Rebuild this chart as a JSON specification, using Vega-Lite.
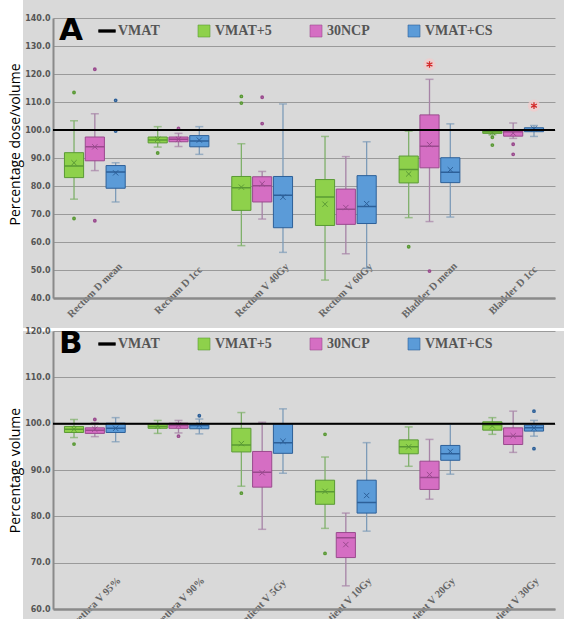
{
  "$schema": "https://vega.github.io/schema/vega-lite/v6.json",
  "autosize": {"type": "pad"},
  "padding": {"left": -22, "top": -16, "right": 0, "bottom": 0},
  "background": "white",
  "bounds": "flush",
  "spacing": 33,
  "resolve": {
    "scale": {"fill": "independent", "stroke": "independent", "color": "independent", "x": "independent", "y": "independent", "xOffset": "independent"},
    "legend": {"fill": "independent"}
  },
  "config": {
    "axisY": {"ticks": false, "domainColor": "#8a8a8a", "domainWidth": 2, "grid": true, "gridColor": "#9a9a9a", "gridWidth": 1, "labelFont": "DejaVu Sans", "labelFontSize": 8, "labelFontWeight": "bold", "labelColor": "#555555", "labelPadding": 3, "labelOverlap": false, "titleFont": "Open Sans", "titleFontSize": 14, "titleFontWeight": "normal", "titleColor": "#000000", "titlePadding": 2, "format": ".1f"},
    "axisX": {"ticks": false, "grid": false, "domainColor": "#8a8a8a", "domainWidth": 2.5, "labelAngle": -45, "labelAlign": "center", "labelBaseline": "middle", "labelFont": "Liberation Serif", "labelFontWeight": "bold", "labelFontSize": 10.5, "labelColor": "#666666", "labelOverlap": false, "labelBound": false, "labelFlush": false, "labelLimit": 0},
    "legend": {"orient": "top-left", "offset": 6, "direction": "horizontal", "columns": 4, "gridAlign": "none", "columnPadding": 36, "padding": 0,
      "titleOrient": "left", "titleFont": "DejaVu Sans", "titleFontSize": 31, "titleFontWeight": "bold", "titleColor": "#000000", "titlePadding": 17, "titleBaseline": "middle",
      "labelFont": "Liberation Serif", "labelFontSize": 14, "labelFontWeight": "bold", "labelColor": "#555555", "labelOffset": 4, "labelLimit": 200,
      "symbolType": "square", "symbolSize": 144, "symbolStrokeColor": "#666666", "symbolStrokeWidth": 0.6, "symbolOpacity": 1}
  },
  "datasets": {
    "boxesA": [
      {"cat": "Rectum D mean", "group": "VMAT+5", "lo": 75.3, "q1": 83.0, "med": 87.1, "q3": 91.9, "hi": 103.3, "mean": 88.3},
      {"cat": "Rectum D mean", "group": "30NCP", "lo": 85.5, "q1": 89.0, "med": 94.0, "q3": 97.5, "hi": 105.8, "mean": 94.0},
      {"cat": "Rectum D mean", "group": "VMAT+CS", "lo": 74.3, "q1": 79.2, "med": 85.0, "q3": 87.3, "hi": 88.3, "mean": 84.7},
      {"cat": "Rectum D 1cc", "group": "VMAT+5", "lo": 93.9, "q1": 95.4, "med": 96.4, "q3": 97.5, "hi": 101.2, "mean": 96.7},
      {"cat": "Rectum D 1cc", "group": "30NCP", "lo": 94.1, "q1": 95.8, "med": 96.7, "q3": 97.5, "hi": 98.8, "mean": 96.7},
      {"cat": "Rectum D 1cc", "group": "VMAT+CS", "lo": 91.3, "q1": 94.0, "med": 96.1, "q3": 98.0, "hi": 101.2, "mean": 96.4},
      {"cat": "Rectum V 40Gy", "group": "VMAT+5", "lo": 58.7, "q1": 71.3, "med": 79.4, "q3": 83.4, "hi": 95.1, "mean": 79.6},
      {"cat": "Rectum V 40Gy", "group": "30NCP", "lo": 68.2, "q1": 74.3, "med": 80.1, "q3": 83.3, "hi": 85.2, "mean": 80.8},
      {"cat": "Rectum V 40Gy", "group": "VMAT+CS", "lo": 56.3, "q1": 65.1, "med": 76.7, "q3": 83.4, "hi": 109.3, "mean": 76.0},
      {"cat": "Rectum V 60Gy", "group": "VMAT+5", "lo": 46.4, "q1": 65.9, "med": 76.1, "q3": 82.3, "hi": 97.7, "mean": 73.5},
      {"cat": "Rectum V 60Gy", "group": "30NCP", "lo": 55.8, "q1": 66.3, "med": 71.7, "q3": 78.9, "hi": 90.5, "mean": 72.3},
      {"cat": "Rectum V 60Gy", "group": "VMAT+CS", "lo": 50.6, "q1": 66.6, "med": 72.7, "q3": 83.7, "hi": 95.8, "mean": 73.7},
      {"cat": "Bladder D mean", "group": "VMAT+5", "lo": 68.7, "q1": 81.1, "med": 85.9, "q3": 90.7, "hi": 99.6, "mean": 84.3},
      {"cat": "Bladder D mean", "group": "30NCP", "lo": 67.3, "q1": 86.5, "med": 94.2, "q3": 105.4, "hi": 118.1, "mean": 94.8},
      {"cat": "Bladder D mean", "group": "VMAT+CS", "lo": 68.9, "q1": 81.2, "med": 84.9, "q3": 90.1, "hi": 102.2, "mean": 85.8},
      {"cat": "Bladder D 1cc", "group": "VMAT+5", "lo": 98.3, "q1": 98.8, "med": 99.4, "q3": 99.9, "hi": 100.0, "mean": 99.2},
      {"cat": "Bladder D 1cc", "group": "30NCP", "lo": 97.0, "q1": 97.8, "med": 99.4, "q3": 99.9, "hi": 102.5, "mean": 98.9},
      {"cat": "Bladder D 1cc", "group": "VMAT+CS", "lo": 97.7, "q1": 99.4, "med": 100.1, "q3": 100.8, "hi": 101.6, "mean": 100.4}
    ],
    "outA": [
      {"cat": "Rectum D mean", "group": "VMAT+5", "value": 113.4, "kind": "dot"},
      {"cat": "Rectum D mean", "group": "VMAT+5", "value": 68.4, "kind": "dot"},
      {"cat": "Rectum D mean", "group": "30NCP", "value": 121.7, "kind": "dot"},
      {"cat": "Rectum D mean", "group": "30NCP", "value": 67.6, "kind": "dot"},
      {"cat": "Rectum D mean", "group": "VMAT+CS", "value": 110.6, "kind": "dot"},
      {"cat": "Rectum D mean", "group": "VMAT+CS", "value": 99.6, "kind": "dot"},
      {"cat": "Rectum D 1cc", "group": "VMAT+5", "value": 91.8, "kind": "dot"},
      {"cat": "Rectum D 1cc", "group": "30NCP", "value": 100.6, "kind": "dot"},
      {"cat": "Rectum V 40Gy", "group": "VMAT+5", "value": 112.0, "kind": "dot"},
      {"cat": "Rectum V 40Gy", "group": "VMAT+5", "value": 109.6, "kind": "dot"},
      {"cat": "Rectum V 40Gy", "group": "30NCP", "value": 111.7, "kind": "dot"},
      {"cat": "Rectum V 40Gy", "group": "30NCP", "value": 102.3, "kind": "dot"},
      {"cat": "Bladder D mean", "group": "VMAT+5", "value": 58.3, "kind": "dot"},
      {"cat": "Bladder D mean", "group": "30NCP", "value": 123.4, "kind": "star"},
      {"cat": "Bladder D mean", "group": "30NCP", "value": 49.6, "kind": "dot"},
      {"cat": "Bladder D 1cc", "group": "VMAT+5", "value": 97.4, "kind": "dot"},
      {"cat": "Bladder D 1cc", "group": "VMAT+5", "value": 94.6, "kind": "dot"},
      {"cat": "Bladder D 1cc", "group": "30NCP", "value": 94.9, "kind": "dot"},
      {"cat": "Bladder D 1cc", "group": "30NCP", "value": 91.3, "kind": "dot"},
      {"cat": "Bladder D 1cc", "group": "VMAT+CS", "value": 108.7, "kind": "star"}
    ],
    "boxesB": [
      {"cat": "Urethra V 95%", "group": "VMAT+5", "lo": 97.0, "q1": 98.1, "med": 98.8, "q3": 99.4, "hi": 100.9, "mean": 98.8},
      {"cat": "Urethra V 95%", "group": "30NCP", "lo": 97.2, "q1": 97.9, "med": 98.6, "q3": 99.1, "hi": 100.2, "mean": 98.8},
      {"cat": "Urethra V 95%", "group": "VMAT+CS", "lo": 96.1, "q1": 98.1, "med": 99.0, "q3": 100.1, "hi": 101.3, "mean": 99.0},
      {"cat": "Urethra V 90%", "group": "VMAT+5", "lo": 97.9, "q1": 99.0, "med": 99.4, "q3": 99.9, "hi": 100.7, "mean": 99.5},
      {"cat": "Urethra V 90%", "group": "30NCP", "lo": 98.0, "q1": 99.0, "med": 99.6, "q3": 100.1, "hi": 100.7, "mean": 99.7},
      {"cat": "Urethra V 90%", "group": "VMAT+CS", "lo": 97.8, "q1": 98.9, "med": 99.6, "q3": 99.9, "hi": 101.0, "mean": 99.7},
      {"cat": "Patient V 5Gy", "group": "VMAT+5", "lo": 86.5, "q1": 93.9, "med": 95.4, "q3": 99.0, "hi": 102.4, "mean": 95.7},
      {"cat": "Patient V 5Gy", "group": "30NCP", "lo": 77.2, "q1": 86.3, "med": 89.5, "q3": 94.0, "hi": 100.3, "mean": 89.4},
      {"cat": "Patient V 5Gy", "group": "VMAT+CS", "lo": 89.3, "q1": 93.6, "med": 95.9, "q3": 99.9, "hi": 103.2, "mean": 96.2},
      {"cat": "Patient V 10Gy", "group": "VMAT+5", "lo": 77.4, "q1": 82.6, "med": 85.3, "q3": 87.8, "hi": 92.8, "mean": 85.4},
      {"cat": "Patient V 10Gy", "group": "30NCP", "lo": 65.0, "q1": 71.1, "med": 75.4, "q3": 76.5, "hi": 80.7, "mean": 73.9},
      {"cat": "Patient V 10Gy", "group": "VMAT+CS", "lo": 76.8, "q1": 80.7, "med": 83.0, "q3": 87.8, "hi": 95.9, "mean": 84.5},
      {"cat": "Patient V 20Gy", "group": "VMAT+5", "lo": 90.8, "q1": 93.5, "med": 95.0, "q3": 96.5, "hi": 99.3, "mean": 95.0},
      {"cat": "Patient V 20Gy", "group": "30NCP", "lo": 83.7, "q1": 85.8, "med": 88.4, "q3": 91.9, "hi": 96.6, "mean": 89.0},
      {"cat": "Patient V 20Gy", "group": "VMAT+CS", "lo": 89.1, "q1": 92.1, "med": 93.5, "q3": 95.3, "hi": 99.9, "mean": 94.0},
      {"cat": "Patient V 30Gy", "group": "VMAT+5", "lo": 97.7, "q1": 98.6, "med": 99.7, "q3": 100.4, "hi": 101.3, "mean": 99.5},
      {"cat": "Patient V 30Gy", "group": "30NCP", "lo": 93.8, "q1": 95.5, "med": 97.3, "q3": 99.1, "hi": 102.7, "mean": 97.4},
      {"cat": "Patient V 30Gy", "group": "VMAT+CS", "lo": 97.3, "q1": 98.4, "med": 99.1, "q3": 99.7, "hi": 100.7, "mean": 99.1}
    ],
    "outB": [
      {"cat": "Urethra V 95%", "group": "VMAT+5", "value": 95.6, "kind": "dot"},
      {"cat": "Urethra V 95%", "group": "30NCP", "value": 100.9, "kind": "dot"},
      {"cat": "Urethra V 90%", "group": "30NCP", "value": 97.3, "kind": "dot"},
      {"cat": "Urethra V 90%", "group": "VMAT+CS", "value": 101.7, "kind": "dot"},
      {"cat": "Patient V 5Gy", "group": "VMAT+5", "value": 85.0, "kind": "dot"},
      {"cat": "Patient V 10Gy", "group": "VMAT+5", "value": 97.7, "kind": "dot"},
      {"cat": "Patient V 10Gy", "group": "VMAT+5", "value": 72.0, "kind": "dot"},
      {"cat": "Patient V 30Gy", "group": "VMAT+CS", "value": 102.7, "kind": "dot"},
      {"cat": "Patient V 30Gy", "group": "VMAT+CS", "value": 94.6, "kind": "dot"}
    ],
    "refline": [
      {"value": 100, "group": "VMAT"}
    ]
  },
  "vconcat": [
    {
      "width": 502,
      "height": 280,
      "view": {"fill": "#d9d9d9", "stroke": "#d9d9d9", "strokeWidth": 60},
      "layer": [
        {
          "encoding": {
            "x": {"field": "cat", "type": "nominal",
              "scale": {"domain": ["Rectum D mean", "Rectum D 1cc", "Rectum V 40Gy", "Rectum V 60Gy", "Bladder D mean", "Bladder D 1cc"], "paddingInner": 0, "paddingOuter": 0},
              "axis": {"title": null, "labelPadding": -8}},
            "xOffset": {"field": "group", "type": "nominal", "scale": {"domain": ["VMAT+5", "30NCP", "VMAT+CS"], "paddingInner": 0.08, "paddingOuter": 0.55}}
          },
          "layer": [
            {
              "data": {"name": "boxesA"},
              "mark": {"type": "rule", "strokeWidth": 1.3},
              "encoding": {
                "y": {"field": "lo", "type": "quantitative", "title": "Percentage dose/volume", "axis": {"values": [40, 50, 60, 70, 80, 90, 100, 110, 120, 130, 140], "titleY": 126}},
                "y2": {"field": "hi"},
                "color": {"field": "group", "type": "nominal", "legend": null, "scale": {"domain": ["VMAT+5", "30NCP", "VMAT+CS"], "range": ["#7fb06a", "#a683a6", "#7d9bb8"]}}
              }
            },
            {
              "data": {"name": "boxesA"},
              "mark": {"type": "bar", "strokeWidth": 1},
              "encoding": {
                "y": {"field": "q1", "type": "quantitative", "title": "Percentage dose/volume", "scale": {"domain": [40, 140], "nice": false, "zero": false},
                  "axis": {"values": [40, 50, 60, 70, 80, 90, 100, 110, 120, 130, 140], "titleY": 126}},
                "y2": {"field": "q3"},
                "fill": {"field": "group", "type": "nominal",
                  "scale": {"domain": ["VMAT", "VMAT+5", "30NCP", "VMAT+CS"], "range": ["#000000", "#8ed14b", "#d56ec3", "#5b9bd8"]},
                  "legend": {"title": "A",
                    "encode": {"symbols": {"update": {"shape": {"signal": "datum.value === 'VMAT' ? 'M-1.4,-0.22H1.4V0.22H-1.4Z' : 'square'"}, "stroke": {"signal": "datum.value === 'VMAT' ? '#000000' : '#666666'"}}}}}},
                "stroke": {"field": "group", "type": "nominal", "legend": null, "scale": {"domain": ["VMAT", "VMAT+5", "30NCP", "VMAT+CS"], "range": ["#000000", "#5a9a35", "#9a4a8e", "#2d6099"]}}
              }
            },
            {
              "data": {"name": "boxesA"},
              "mark": {"type": "bar", "fillOpacity": 0, "strokeWidth": 1.5},
              "encoding": {
                "y": {"field": "med", "type": "quantitative", "title": "Percentage dose/volume", "axis": {"values": [40, 50, 60, 70, 80, 90, 100, 110, 120, 130, 140], "titleY": 126}},
                "y2": {"field": "med"},
                "stroke": {"field": "group", "type": "nominal", "legend": null}
              }
            },
            {
              "data": {"name": "boxesA"},
              "mark": {"type": "tick", "size": 8, "thickness": 1.5},
              "encoding": {
                "y": {"field": "lo", "type": "quantitative", "title": "Percentage dose/volume", "axis": {"values": [40, 50, 60, 70, 80, 90, 100, 110, 120, 130, 140], "titleY": 126}},
                "color": {"field": "group", "type": "nominal", "legend": null}
              }
            },
            {
              "data": {"name": "boxesA"},
              "mark": {"type": "tick", "size": 8, "thickness": 1.5},
              "encoding": {
                "y": {"field": "hi", "type": "quantitative", "title": "Percentage dose/volume", "axis": {"values": [40, 50, 60, 70, 80, 90, 100, 110, 120, 130, 140], "titleY": 126}},
                "color": {"field": "group", "type": "nominal", "legend": null}
              }
            },
            {
              "data": {"name": "boxesA"},
              "mark": {"type": "point", "shape": "M-1,-1L1,1M-1,1L1,-1", "filled": false, "size": 28, "strokeWidth": 1, "opacity": 1},
              "encoding": {
                "y": {"field": "mean", "type": "quantitative", "title": "Percentage dose/volume", "axis": {"values": [40, 50, 60, 70, 80, 90, 100, 110, 120, 130, 140], "titleY": 126}},
                "stroke": {"field": "group", "type": "nominal", "legend": null}
              }
            },
            {
              "data": {"name": "outA"},
              "transform": [{"filter": "datum.kind === 'dot'"}],
              "mark": {"type": "point", "filled": false, "size": 5, "strokeWidth": 1.6, "opacity": 1},
              "encoding": {
                "y": {"field": "value", "type": "quantitative", "title": "Percentage dose/volume", "axis": {"values": [40, 50, 60, 70, 80, 90, 100, 110, 120, 130, 140], "titleY": 126}},
                "stroke": {"field": "group", "type": "nominal", "legend": null}
              }
            },
            {
              "data": {"name": "outA"},
              "transform": [{"filter": "datum.kind === 'star'"}],
              "mark": {"type": "point", "filled": true, "shape": "circle", "size": 150, "color": "#f0cccc", "opacity": 0.8},
              "encoding": {
                "y": {"field": "value", "type": "quantitative", "title": "Percentage dose/volume", "axis": {"values": [40, 50, 60, 70, 80, 90, 100, 110, 120, 130, 140], "titleY": 126}}
              }
            },
            {
              "data": {"name": "outA"},
              "transform": [{"filter": "datum.kind === 'star'"}],
              "mark": {"type": "point", "filled": false, "shape": "M0,-1V1M-0.87,-0.5L0.87,0.5M-0.87,0.5L0.87,-0.5", "size": 45, "strokeWidth": 1.3, "color": "#d42a2a", "opacity": 1},
              "encoding": {
                "y": {"field": "value", "type": "quantitative", "title": "Percentage dose/volume", "axis": {"values": [40, 50, 60, 70, 80, 90, 100, 110, 120, 130, 140], "titleY": 126}}
              }
            }
          ]
        },
        {
          "data": {"name": "refline"},
          "mark": {"type": "rule", "strokeWidth": 2},
          "encoding": {
            "y": {"field": "value", "type": "quantitative", "title": "Percentage dose/volume", "axis": {"values": [40, 50, 60, 70, 80, 90, 100, 110, 120, 130, 140], "titleY": 126}},
            "stroke": {"field": "group", "type": "nominal", "legend": null}
          }
        }
      ]
    },
    {
      "width": 502,
      "height": 278,
      "view": {"fill": "#d9d9d9", "stroke": "#d9d9d9", "strokeWidth": 60, "strokeDash": [0, 502, 1100, 0]},
      "layer": [
        {
          "encoding": {
            "x": {"field": "cat", "type": "nominal",
              "scale": {"domain": ["Urethra V 95%", "Urethra V 90%", "Patient V 5Gy", "Patient V 10Gy", "Patient V 20Gy", "Patient V 30Gy"], "paddingInner": 0, "paddingOuter": 0},
              "axis": {"title": null, "labelPadding": -6}},
            "xOffset": {"field": "group", "type": "nominal", "scale": {"domain": ["VMAT+5", "30NCP", "VMAT+CS"], "paddingInner": 0.08, "paddingOuter": 0.55}}
          },
          "layer": [
            {
              "data": {"name": "boxesB"},
              "mark": {"type": "rule", "strokeWidth": 1.3},
              "encoding": {
                "y": {"field": "lo", "type": "quantitative", "title": "Percentage volume", "axis": {"values": [60, 70, 80, 90, 100, 110, 120]}},
                "y2": {"field": "hi"},
                "color": {"field": "group", "type": "nominal", "legend": null, "scale": {"domain": ["VMAT+5", "30NCP", "VMAT+CS"], "range": ["#7fb06a", "#a683a6", "#7d9bb8"]}}
              }
            },
            {
              "data": {"name": "boxesB"},
              "mark": {"type": "bar", "strokeWidth": 1},
              "encoding": {
                "y": {"field": "q1", "type": "quantitative", "title": "Percentage volume", "scale": {"domain": [60, 120], "nice": false, "zero": false},
                  "axis": {"values": [60, 70, 80, 90, 100, 110, 120]}},
                "y2": {"field": "q3"},
                "fill": {"field": "group", "type": "nominal",
                  "scale": {"domain": ["VMAT", "VMAT+5", "30NCP", "VMAT+CS"], "range": ["#000000", "#8ed14b", "#d56ec3", "#5b9bd8"]},
                  "legend": {"title": "B",
                    "encode": {"symbols": {"update": {"shape": {"signal": "datum.value === 'VMAT' ? 'M-1.4,-0.22H1.4V0.22H-1.4Z' : 'square'"}, "stroke": {"signal": "datum.value === 'VMAT' ? '#000000' : '#666666'"}}}}}},
                "stroke": {"field": "group", "type": "nominal", "legend": null, "scale": {"domain": ["VMAT", "VMAT+5", "30NCP", "VMAT+CS"], "range": ["#000000", "#5a9a35", "#9a4a8e", "#2d6099"]}}
              }
            },
            {
              "data": {"name": "boxesB"},
              "mark": {"type": "bar", "fillOpacity": 0, "strokeWidth": 1.5},
              "encoding": {
                "y": {"field": "med", "type": "quantitative", "title": "Percentage volume", "axis": {"values": [60, 70, 80, 90, 100, 110, 120]}},
                "y2": {"field": "med"},
                "stroke": {"field": "group", "type": "nominal", "legend": null}
              }
            },
            {
              "data": {"name": "boxesB"},
              "mark": {"type": "tick", "size": 8, "thickness": 1.5},
              "encoding": {
                "y": {"field": "lo", "type": "quantitative", "title": "Percentage volume", "axis": {"values": [60, 70, 80, 90, 100, 110, 120]}},
                "color": {"field": "group", "type": "nominal", "legend": null}
              }
            },
            {
              "data": {"name": "boxesB"},
              "mark": {"type": "tick", "size": 8, "thickness": 1.5},
              "encoding": {
                "y": {"field": "hi", "type": "quantitative", "title": "Percentage volume", "axis": {"values": [60, 70, 80, 90, 100, 110, 120]}},
                "color": {"field": "group", "type": "nominal", "legend": null}
              }
            },
            {
              "data": {"name": "boxesB"},
              "mark": {"type": "point", "shape": "M-1,-1L1,1M-1,1L1,-1", "filled": false, "size": 28, "strokeWidth": 1, "opacity": 1},
              "encoding": {
                "y": {"field": "mean", "type": "quantitative", "title": "Percentage volume", "axis": {"values": [60, 70, 80, 90, 100, 110, 120]}},
                "stroke": {"field": "group", "type": "nominal", "legend": null}
              }
            },
            {
              "data": {"name": "outB"},
              "mark": {"type": "point", "filled": false, "size": 5, "strokeWidth": 1.6, "opacity": 1},
              "encoding": {
                "y": {"field": "value", "type": "quantitative", "title": "Percentage volume", "axis": {"values": [60, 70, 80, 90, 100, 110, 120]}},
                "stroke": {"field": "group", "type": "nominal", "legend": null}
              }
            }
          ]
        },
        {
          "data": {"name": "refline"},
          "mark": {"type": "rule", "strokeWidth": 2},
          "encoding": {
            "y": {"field": "value", "type": "quantitative", "title": "Percentage volume", "axis": {"values": [60, 70, 80, 90, 100, 110, 120]}},
            "stroke": {"field": "group", "type": "nominal", "legend": null}
          }
        }
      ]
    }
  ]
}
